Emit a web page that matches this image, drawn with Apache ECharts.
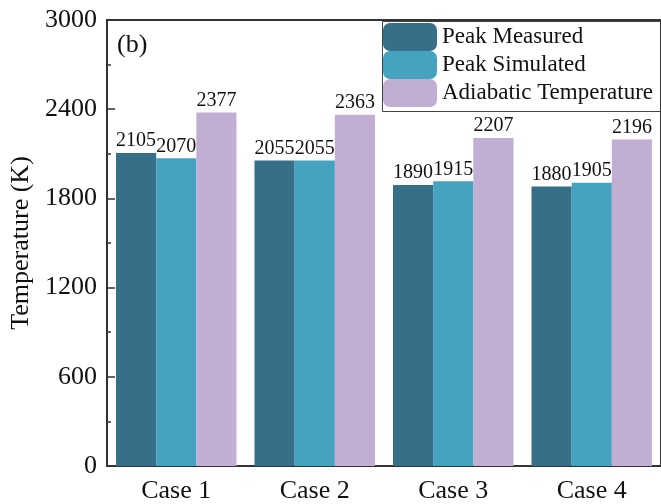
<!DOCTYPE html>
<html>
<head>
<meta charset="utf-8">
<script src="https://cdn.jsdelivr.net/npm/echarts@6/dist/echarts.min.js"></script>
<style>html,body{margin:0;padding:0;background:#fff}#c{width:661px;height:504px}</style>
</head>
<body>
<div id="c"></div>
<script>
const categories = ['Case 1', 'Case 2', 'Case 3', 'Case 4'];
const peakMeasured = [2105, 2055, 1890, 1880];
const peakSimulated = [2070, 2055, 1915, 1905];
const adiabatic = [2377, 2363, 2207, 2196];
const seriesNames = ['Peak Measured', 'Peak Simulated', 'Adiabatic Temperature'];
const colors = ['#376F89', '#45A3C0', '#C1AED3'];

const font = 'Liberation Serif';
const chart = echarts.init(document.getElementById('c'));
const mk = (name, data, color) => ({
  name, type: 'bar', data, barGap: '0%', barCategoryGap: '13%',
  itemStyle: { color },
  label: { show: true, position: 'top', distance: 2, color: '#111', fontFamily: font, fontSize: 20 }
});
chart.setOption({
  animation: false,
  textStyle: { fontFamily: font },
  grid: { left: 107, top: 20, right: -2, bottom: 37, show: true, borderColor: '#333', borderWidth: 2 },
  legend: {
    orient: 'vertical', left: 383, top: 23, itemWidth: 54, itemHeight: 28, itemGap: 0,
    padding: 0, icon: 'roundRect',
    textStyle: { fontFamily: font, fontSize: 23, color: '#111' },
    data: seriesNames
  },
  xAxis: {
    type: 'category', data: categories,
    axisLine: { lineStyle: { color: '#333', width: 2 } },
    axisTick: { show: false },
    axisLabel: { fontFamily: font, fontSize: 26, color: '#111', margin: 12 }
  },
  yAxis: {
    type: 'value', min: 0, max: 3000, interval: 600,
    name: 'Temperature (K)', nameLocation: 'middle', nameGap: 72,
    nameTextStyle: { fontFamily: font, fontSize: 26, color: '#111' },
    axisLine: { show: true, lineStyle: { color: '#333', width: 2 } },
    axisTick: { show: true, inside: true, length: 8, lineStyle: { color: '#333', width: 1.5 } },
    minorTick: { show: true, splitNumber: 2, length: 4, lineStyle: { color: '#333', width: 1.5 } },
    splitLine: { show: false },
    axisLabel: { fontFamily: font, fontSize: 26, color: '#111', margin: 10, formatter: v => String(v) }
  },
  graphic: [
    { type: 'text', left: 117, top: 32, style: { text: '(b)', fontFamily: font, fontSize: 26, fill: '#111' } },
    { type: 'rect', shape: { x: 382.5, y: 21.5, width: 320, height: 90 }, style: { fill: 'none', stroke: '#444', lineWidth: 1 }, z: 10 }
  ],
  series: [
    mk(seriesNames[0], peakMeasured, colors[0]),
    mk(seriesNames[1], peakSimulated, colors[1]),
    mk(seriesNames[2], adiabatic, colors[2])
  ]
});
</script>
</body>
</html>
